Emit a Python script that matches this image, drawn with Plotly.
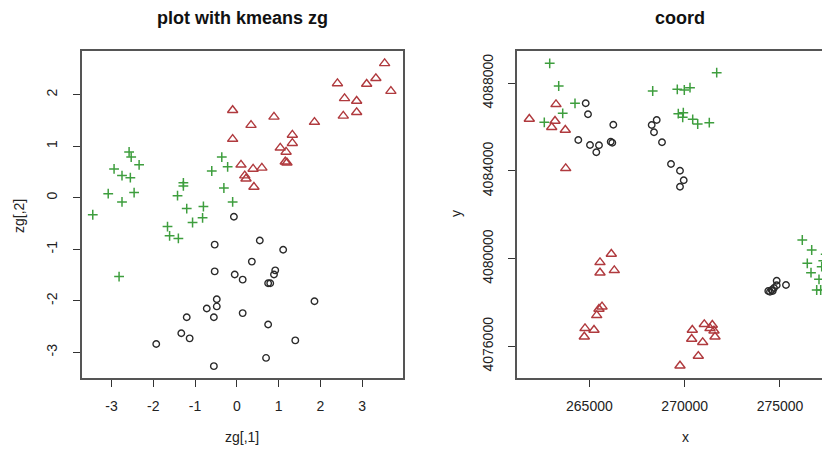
import plotly.graph_objects as go

# ---------------- data: left panel (zg) ----------------
zg_red_x = [3.54, 2.41, 3.11, 3.33, 3.69, 2.58, 2.87, 2.87, 2.55, 1.86, 0.89, 0.34, -0.10,
            -0.10, 1.33, 1.33, 1.04, 1.18, 1.20, 1.16, 0.10, 0.39, 0.60, 0.19, 0.22, 0.41]
zg_red_y = [2.61, 2.22, 2.21, 2.32, 2.07, 1.93, 1.88, 1.66, 1.59, 1.47, 1.57, 1.41, 1.70,
            1.14, 1.22, 1.06, 0.97, 0.89, 0.68, 0.70, 0.64, 0.56, 0.58, 0.43, 0.37, 0.21]

zg_green_x = [-2.58, -2.53, -2.34, -2.94, -2.75, -2.55, -3.08, -2.75, -2.46, -3.45, -1.28, -1.28, -1.42,
              -1.20, -0.80, -0.82, -0.36, -0.22, -0.60, -0.31, -0.10, -1.06, -1.66, -1.61, -1.40, -2.82]
zg_green_y = [0.89, 0.79, 0.64, 0.56, 0.43, 0.39, 0.08, -0.08, 0.10, -0.33, 0.29, 0.23, 0.04,
              -0.21, -0.17, -0.39, 0.79, 0.60, 0.52, 0.19, -0.08, -0.48, -0.56, -0.74, -0.79, -1.53]

zg_black_x = [-0.07, -0.53, -0.53, -0.05, 0.14, -0.48, -0.48, -0.72, -1.20, -0.55, 0.14, -1.33, -1.13,
              -1.93, -0.55, 0.55, 1.11, 0.36, 0.92, 0.89, 0.75, 0.80, 1.86, 0.75, 1.40, 0.70]
zg_black_y = [-0.37, -0.91, -1.43, -1.49, -1.59, -1.97, -2.11, -2.15, -2.32, -2.32, -2.24, -2.63, -2.73,
              -2.84, -3.27, -0.83, -1.01, -1.24, -1.41, -1.49, -1.66, -1.66, -2.01, -2.46, -2.77, -3.11]

# ---------------- data: right panel (coord) ----------------
co_green_x = [262917, 263389, 264244, 263599, 262633, 268321, 271679, 269612, 269979, 270278,
              269664, 269927, 269895, 270420, 270682, 271291,
              276170, 276664, 277398, 277272, 276433, 277188, 276627, 277047, 276926, 277136]
co_green_y = [4088912, 4087877, 4087088, 4086631, 4086221, 4087649, 4088484, 4087726, 4087694, 4087799,
              4086613, 4086659, 4086449, 4086358, 4086143, 4086203,
              4080851, 4080395, 4080199, 4079907, 4079789, 4079633, 4079360, 4079059, 4078570, 4078570]

co_red_x = [263247, 261846, 263195, 263022, 263735, 263756,
            266149, 265556, 266306, 265556, 265661, 265503, 265383, 264769, 265241, 264732,
            269753, 270714, 270944, 270399, 270367, 271028, 271448, 271327, 271537, 271590]
co_red_y = [4087042, 4086371, 4086280, 4085993, 4085870, 4084122,
            4080213, 4079834, 4079469, 4079360, 4077809, 4077704, 4077416, 4076823, 4076746, 4076440,
            4075117, 4075558, 4076185, 4076746, 4076335, 4077006, 4076974, 4076823, 4076714, 4076440]

co_black_x = [264806, 264926, 266254, 264417, 265031, 265503, 265362, 266117, 266201,
              268531, 268268, 268389, 268809, 269281, 269753, 269948, 269753,
              274386, 274565, 274685, 274827, 274827, 275315, 274476, 274617]
co_black_y = [4087088, 4086586, 4086111, 4085413, 4085185, 4085172, 4084852, 4085336, 4085290,
              4086326, 4086098, 4085765, 4085308, 4084318, 4084013, 4083575, 4083283,
              4078525, 4078570, 4078662, 4078785, 4078995, 4078799, 4078493, 4078525]

left_xticks = [-3, -2, -1, 0, 1, 2, 3]
left_yticks = [-3, -2, -1, 0, 1, 2]
right_xticks = [265000, 270000, 275000]
right_yticks = [4076000, 4080000, 4084000, 4088000]

# ---------------- styling ----------------
RED = "#B03A3E"
GREEN = "#3E9E3E"
BLACK = "#2A2A2A"
FONT = "Liberation Sans, Arial, sans-serif"
OFF = 8                      # default page body margin
W, H = 830 - OFF, 450 - OFF  # figure fits the window exactly


def px_x(p):
    return (p - OFF) / W


def px_y(p):
    return 1 - (p - OFF) / H


fig = go.Figure()


def add_sets(xa, ya, bx, by, rx, ry, gx, gy):
    fig.add_trace(go.Scatter(x=bx, y=by, mode="markers", xaxis=xa, yaxis=ya,
                             marker=dict(symbol="circle-open", size=6.5,
                                         line=dict(color=BLACK, width=1.4), color=BLACK)))
    fig.add_trace(go.Scatter(x=rx, y=ry, mode="markers", xaxis=xa, yaxis=ya,
                             marker=dict(symbol="triangle-up-open", size=9,
                                         line=dict(color=RED, width=1.4), color=RED)))
    fig.add_trace(go.Scatter(x=gx, y=gy, mode="markers", xaxis=xa, yaxis=ya,
                             marker=dict(symbol="cross-thin-open", size=7,
                                         line=dict(color=GREEN, width=1.5), color=GREEN)))


add_sets("x", "y", zg_black_x, zg_black_y, zg_red_x, zg_red_y, zg_green_x, zg_green_y)
add_sets("x2", "y2", co_black_x, co_black_y, co_red_x, co_red_y, co_green_x, co_green_y)

axis_common = dict(showgrid=False, zeroline=False, showline=True, linecolor="#555555",
                   linewidth=1.5, ticks="outside", ticklen=7, tickwidth=1.2,
                   tickcolor="#333333", automargin=False,
                   tickfont=dict(family=FONT, size=14, color="#222222"))

plot_top, plot_bot = 51, 378
ydom = [px_y(plot_bot), px_y(plot_top)]

fig.update_layout(
    width=W, height=H,
    margin=dict(l=0, r=0, t=0, b=0),
    paper_bgcolor="white", plot_bgcolor="white",
    showlegend=False,
    xaxis=dict(domain=[px_x(81.5), px_x(403)], range=[-3.72, 3.98],
               tickvals=left_xticks, ticktext=[str(v) for v in left_xticks],
               mirror=True, anchor="y", ticklabelstandoff=7, **axis_common),
    yaxis=dict(domain=ydom, range=[-3.5, 2.85],
               tickvals=left_yticks, ticktext=[str(v) for v in left_yticks],
               mirror=True, anchor="x", tickangle=-90, ticklabelstandoff=10, **axis_common),
    xaxis2=dict(domain=[px_x(516.7), 1.0], range=[261185, 277624],
                tickvals=right_xticks, ticktext=[str(v) for v in right_xticks],
                mirror=True, anchor="y2", ticklabelstandoff=7, **axis_common),
    yaxis2=dict(domain=ydom, range=[4074556, 4089474],
                tickvals=right_yticks, ticktext=[str(v) for v in right_yticks],
                mirror=False, anchor="x2", tickangle=-90, ticklabelstandoff=9, **axis_common),
)

ann_font = dict(family=FONT, size=14, color="#222222")
title_font = dict(family=FONT, size=18, color="#111111")
annotations = [
    dict(text="<b>plot with kmeans zg</b>", x=px_x(242), y=px_y(18), font=title_font),
    dict(text="<b>coord</b>", x=px_x(680), y=px_y(18), font=title_font),
    dict(text="zg[,1]", x=px_x(242), y=px_y(437), font=ann_font),
    dict(text="x", x=px_x(685), y=px_y(437), font=ann_font),
    dict(text="zg[,2]", x=px_x(19), y=px_y(216), font=ann_font, textangle=-90),
    dict(text="y", x=px_x(456), y=px_y(214), font=ann_font, textangle=-90),
]
for a in annotations:
    a.update(xref="paper", yref="paper", showarrow=False, xanchor="center", yanchor="middle")
fig.update_layout(annotations=annotations)

fig.write_html("out.html")
